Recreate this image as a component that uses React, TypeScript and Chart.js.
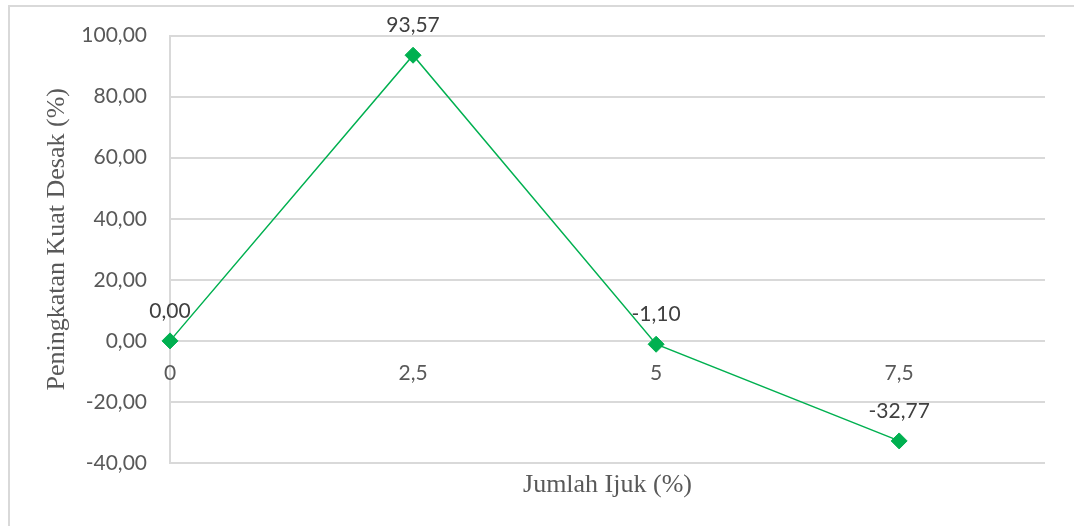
import { useEffect, useRef } from 'react';
import { Chart, registerables } from 'chart.js';

Chart.register(...registerables);

const xValues = [0, 2.5, 5, 7.5];
const xTickLabels = ['0', '2,5', '5', '7,5'];
const increase = [0.0, 93.57, -1.1, -32.77];
const yTicks = [-40, -20, 0, 20, 40, 60, 80, 100];
const xTitle = 'Jumlah Ijuk (%)';
const yTitle = 'Peningkatan Kuat Desak (%)';

const fmt = (v: number) => v.toFixed(2).replace('.', ',');

const GREEN = '#00b050';
const GRID = '#d9d9d9';
const TICK = '#595959';
const LABEL = '#404040';
const SANS = 'Lato, "Open Sans", sans-serif';
const SERIF = '"Liberation Serif", "Times New Roman", serif';

const dataLabelPlugin = {
  id: 'dataLabels',
  afterDatasetsDraw(chart: any) {
    const ctx = chart.ctx;
    const meta = chart.getDatasetMeta(0);
    ctx.save();
    ctx.font = `21px ${SANS}`;
    ctx.fillStyle = LABEL;
    ctx.textAlign = 'center';
    ctx.textBaseline = 'middle';
    meta.data.forEach((pt: any, i: number) => {
      ctx.fillText(fmt(increase[i]), pt.x, pt.y - 30);
    });
    ctx.restore();
  },
};

const yTitlePlugin = {
  id: 'yTitle',
  afterDraw(chart: any) {
    const { ctx, chartArea } = chart;
    ctx.save();
    ctx.translate(57, (chartArea.top + chartArea.bottom) / 2 - 10);
    ctx.rotate(-Math.PI / 2);
    ctx.font = `26px ${SERIF}`;
    ctx.fillStyle = TICK;
    ctx.textAlign = 'center';
    ctx.textBaseline = 'middle';
    ctx.fillText(yTitle, 0, 0);
    ctx.restore();
  },
};

export default function App() {
  const canvasRef = useRef<HTMLCanvasElement | null>(null);

  useEffect(() => {
    if (!canvasRef.current) return;
    const chart = new Chart(canvasRef.current, {
      type: 'line',
      data: {
        datasets: [
          {
            data: xValues.map((x, i) => ({ x, y: increase[i] })),
            borderColor: GREEN,
            backgroundColor: GREEN,
            borderWidth: 1.5,
            pointStyle: 'rectRot',
            pointRadius: 8,
            pointBorderWidth: 1,
            pointBackgroundColor: GREEN,
            pointBorderColor: GREEN,
            tension: 0,
            clip: false,
            xAxisID: 'x',
            yAxisID: 'y',
          } as any,
        ],
      },
      options: {
        animation: false,
        responsive: true,
        maintainAspectRatio: false,
        layout: { padding: { top: 35, right: 29, left: 0, bottom: 0 } },
        plugins: {
          legend: { display: false },
          tooltip: { enabled: false },
        },
        scales: {
          y: {
            type: 'linear',
            position: 'left',
            min: -40,
            max: 100,
            afterBuildTicks: (s: any) => {
              s.ticks = yTicks.map((v) => ({ value: v }));
            },
            afterFit: (s: any) => {
              s.width = 170;
            },
            ticks: {
              callback: (v: any) => fmt(Number(v)),
              color: TICK,
              font: { family: SANS, size: 21 },
              padding: 23,
            },
            grid: { color: GRID, lineWidth: 2, drawTicks: false },
            border: { display: true, color: GRID, width: 2 },
          },
          x: {
            type: 'linear',
            position: { y: 0 } as any,
            min: 0,
            max: 9,
            afterBuildTicks: (s: any) => {
              s.ticks = xValues.map((v) => ({ value: v }));
            },
            ticks: {
              callback: (v: any) => {
                const i = xValues.indexOf(Number(v));
                return i >= 0 ? xTickLabels[i] : '';
              },
              color: TICK,
              font: { family: SANS, size: 21 },
              padding: 20,
              maxRotation: 0,
              autoSkip: false,
            },
            grid: { display: false, drawTicks: false },
            border: { display: false },
          },
          x2: {
            type: 'linear',
            position: 'bottom',
            min: 0,
            max: 9,
            afterFit: (s: any) => {
              s.height = 63;
            },
            ticks: { display: false },
            grid: { display: false, drawTicks: false },
            border: { display: false },
            title: {
              display: true,
              text: xTitle,
              color: TICK,
              font: { family: SERIF, size: 26 },
              padding: { top: 0, bottom: 25 },
            },
          },
        } as any,
      },
      plugins: [dataLabelPlugin, yTitlePlugin],
    });
    return () => chart.destroy();
  }, []);

  return (
    <div style={{ position: 'absolute', left: 0, top: 0, width: 1074, height: 526, background: '#ffffff' }}>
      <div
        style={{
          position: 'absolute',
          left: 8,
          top: 5,
          right: 0,
          bottom: 0,
          borderTop: `2px solid ${GRID}`,
          borderLeft: `2px solid ${GRID}`,
        }}
      />
      <div style={{ position: 'absolute', left: 0, top: 0, width: 1074, height: 526 }}>
        <canvas ref={canvasRef} />
      </div>
    </div>
  );
}
